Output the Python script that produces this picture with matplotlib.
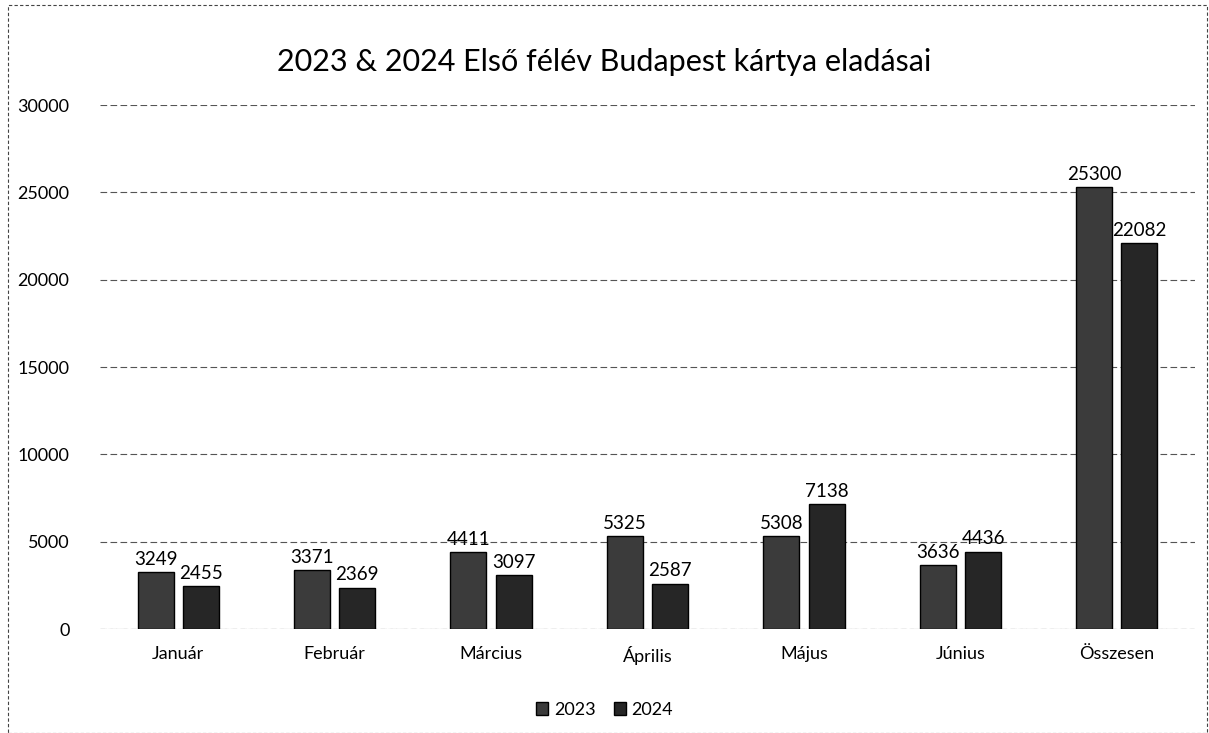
import numpy as np
import matplotlib.pyplot as plt
from matplotlib.patches import Rectangle

plt.rcParams['font.family'] = ['Lato', 'DejaVu Sans']

# Havi eladások
months = ["Január", "Február", "Március", "Április", "Május", "Június", "Összesen"]
sales_2023 = [3249, 3371, 4411, 5325, 5308, 3636, 25300]
sales_2024 = [2455, 2369, 3097, 2587, 7138, 4436, 22082]
y_ticks = [0, 5000, 10000, 15000, 20000, 25000, 30000]

fig = plt.figure(figsize=(12.09, 7.33), dpi=100)
ax = fig.add_axes([100 / 1209, 1 - 629 / 733, 1095 / 1209, 524 / 733])

x = np.arange(len(months))
w = 0.23
off = 0.145
b1 = ax.bar(x - off, sales_2023, w, color="#3b3b3b", edgecolor="black", linewidth=1, label="2023", zorder=3)
b2 = ax.bar(x + off, sales_2024, w, color="#262626", edgecolor="black", linewidth=1, label="2024", zorder=3)

for bars in (b1, b2):
    for rect in bars:
        h = rect.get_height()
        ax.text(rect.get_x() + rect.get_width() / 2, h + 250, f"{int(h)}",
                ha="center", va="bottom", fontsize=13.5, color="black", zorder=4)

ax.set_xlim(-0.5, len(months) - 0.5)
ax.set_ylim(0, 30000)
ax.set_yticks(y_ticks)
ax.set_yticklabels([str(t) for t in y_ticks], fontsize=13)
ax.set_xticks(x)
ax.set_xticklabels(months, fontsize=13)
ax.tick_params(length=0, pad=12)
ax.tick_params(axis="y", pad=22)
ax.yaxis.grid(True, color="#555555", linestyle=(0, (6, 3)), linewidth=0.8, zorder=0)
for s in ax.spines.values():
    s.set_visible(False)
ax.axhline(0, color="#777777", linestyle=(0, (4, 3)), linewidth=0.8, zorder=2)

fig.text(0.5, 1 - 62 / 733, "2023 & 2024 Első félév Budapest kártya eladásai",
         ha="center", va="center", fontsize=22)

fig.legend(handles=[b1, b2], labels=["2023", "2024"], loc="center",
           bbox_to_anchor=(0.5, 1 - 710 / 733), ncol=2, frameon=False,
           fontsize=13, handlelength=0.7, handleheight=0.7, columnspacing=1.0,
           handletextpad=0.3)

fig.patches.append(Rectangle((8 / 1209, 0), 1 - 8 / 1209 - 2 / 1209, 1 - 5 / 733,
                             transform=fig.transFigure, fill=False,
                             edgecolor="#444444", linestyle=(0, (3, 2)), linewidth=0.8))

fig.savefig("out.png", dpi=100)
